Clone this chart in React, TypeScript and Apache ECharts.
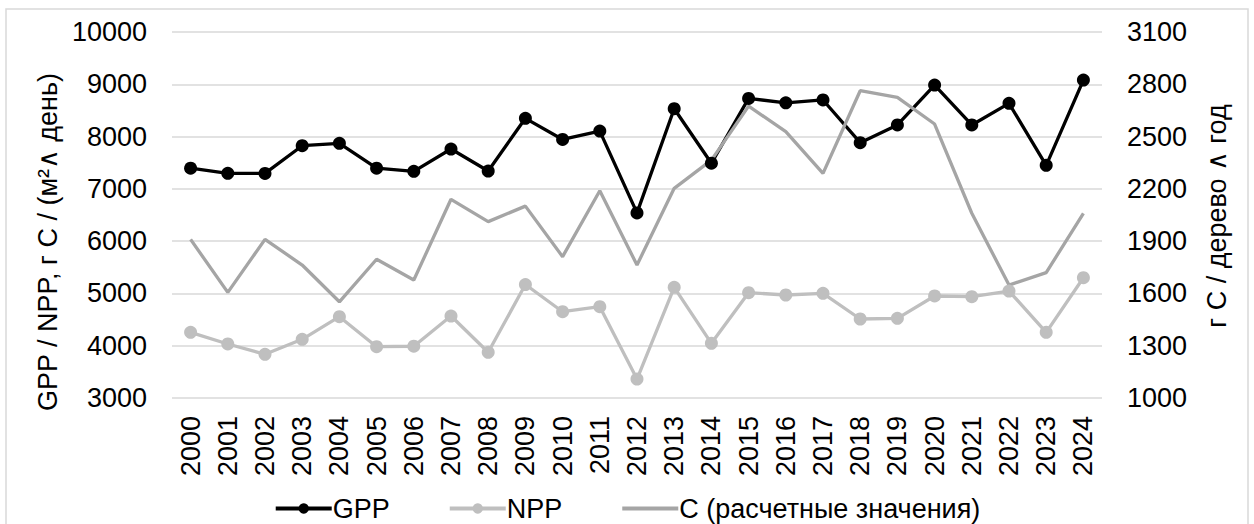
import React, { useEffect, useRef } from "react";
import * as echarts from "echarts";

const years = ["2000","2001","2002","2003","2004","2005","2006","2007","2008","2009","2010","2011","2012","2013","2014","2015","2016","2017","2018","2019","2020","2021","2022","2023","2024"];
const gpp = [7395, 7298, 7295, 7825, 7870, 7395, 7335, 7762, 7341, 8349, 7945, 8105, 6540, 8533, 7490, 8730, 8646, 8700, 7883, 8222, 8985, 8222, 8635, 7450, 9080];
const npp = [4256, 4033, 3836, 4122, 4555, 3981, 3990, 4568, 3874, 5170, 4650, 4746, 3363, 5117, 4046, 5014, 4970, 5002, 4511, 4524, 4951, 4937, 5046, 4256, 5300];
const cVals = [1910, 1606, 1910, 1763, 1552, 1796, 1677, 2140, 2012, 2101, 1811, 2189, 1763, 2203, 2365, 2675, 2528, 2289, 2763, 2725, 2572, 2060, 1648, 1719, 2060];
const rightTicks = [1000, 1300, 1600, 1900, 2200, 2500, 2800, 3100];

const seriesNames = ["GPP", "NPP", "C (расчетные значения)"];
const leftName = "GPP / NPP, г С / (м²∧ день)";
const rightName = "г С / дерево ∧ год";

const FONT = "'Liberation Sans', Arial, 'DejaVu Sans', sans-serif";

export default function App() {
  const ref = useRef<HTMLDivElement>(null);
  useEffect(() => {
    if (!ref.current) return;
    const chart = echarts.init(ref.current, null, { renderer: "svg" });
    chart.setOption({
      animation: false,
      backgroundColor: "#ffffff",
      textStyle: { fontFamily: FONT },
      grid: { left: 172, right: 152, top: 32, bottom: 126, containLabel: false },
      legend: {
        left: "center",
        top: 490,
        itemWidth: 56,
        itemHeight: 13,
        itemGap: 58,
        lineStyle: { width: 4 },
        textStyle: { fontSize: 27, color: "#000", fontFamily: FONT, padding: [0, 0, 0, -4] },
        data: [
          { name: seriesNames[0], lineStyle: { width: 4 } },
          { name: seriesNames[1], lineStyle: { width: 4 } },
          { name: seriesNames[2], lineStyle: { width: 4 }, itemStyle: { color: "rgba(0,0,0,0)", borderWidth: 0 } },
        ],
      },
      xAxis: {
        type: "category",
        data: years,
        boundaryGap: true,
        axisLine: { show: false },
        axisTick: { show: false },
        axisLabel: { rotate: 90, fontSize: 27, color: "#000", margin: 18, fontFamily: FONT },
      },
      yAxis: [
        {
          type: "value",
          min: 3000,
          max: 10000,
          interval: 1000,
          axisLine: { show: false },
          axisTick: { show: false },
          axisLabel: { fontSize: 27, color: "#000", margin: 25, fontFamily: FONT, formatter: (v: number) => String(v) },
          splitLine: { show: true, lineStyle: { color: "#d9d9d9", width: 1.5 } },
        },
        {
          type: "value",
          min: 1000,
          max: 3100,
          position: "right",
          axisLine: { show: false },
          axisTick: { show: false },
          axisLabel: { fontSize: 27, color: "#000", margin: 25, fontFamily: FONT, customValues: rightTicks, formatter: (v: number) => String(v) },
          splitLine: { show: false },
        },
      ],
      graphic: [
        {
          type: "rect",
          shape: { x: 6, y: 9, width: 1242, height: 540 },
          style: { fill: "none", stroke: "#d9d9d9", lineWidth: 1.5 },
          silent: true,
        },
        {
          type: "text",
          x: 48,
          y: 242,
          rotation: Math.PI / 2,
          style: { text: leftName, fontSize: 27, fill: "#000", fontFamily: FONT, textAlign: "center", textVerticalAlign: "middle" },
        },
        {
          type: "text",
          x: 1217,
          y: 216,
          rotation: Math.PI / 2,
          style: { text: rightName, fontSize: 27, fill: "#000", fontFamily: FONT, textAlign: "center", textVerticalAlign: "middle" },
        },
      ],
      series: [
        {
          name: seriesNames[0],
          type: "line",
          data: gpp,
          yAxisIndex: 0,
          color: "#000000",
          symbol: "circle",
          symbolSize: 13,
          lineStyle: { width: 3.3, color: "#000000" },
          itemStyle: { color: "#000000" },
        },
        {
          name: seriesNames[1],
          type: "line",
          data: npp,
          yAxisIndex: 0,
          color: "#bfbfbf",
          symbol: "circle",
          symbolSize: 13,
          lineStyle: { width: 3.3, color: "#bfbfbf" },
          itemStyle: { color: "#bfbfbf" },
        },
        {
          name: seriesNames[2],
          type: "line",
          data: cVals,
          yAxisIndex: 1,
          color: "#a5a5a5",
          symbol: "none",
          lineStyle: { width: 3.3, color: "#a5a5a5" },
          itemStyle: { color: "#a5a5a5" },
        },
      ],
    });
    return () => chart.dispose();
  }, []);
  return <div ref={ref} style={{ position: "fixed", left: 0, top: 0, width: 1254, height: 524 }} />;
}
